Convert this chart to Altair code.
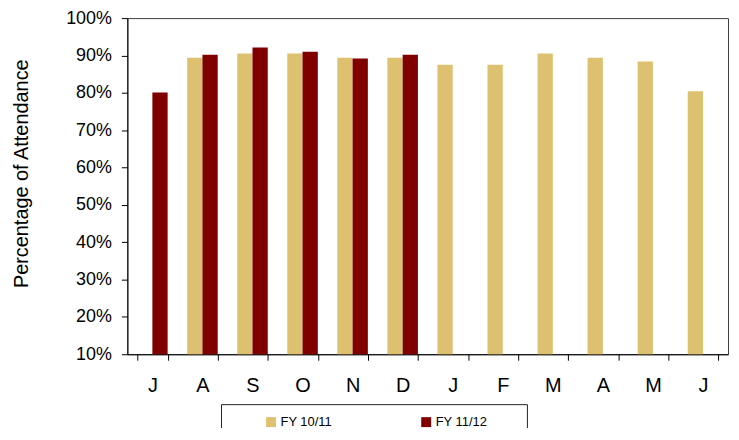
import altair as alt
import pandas as pd

# ---- data ----
months = ["Jul", "Aug", "Sep", "Oct", "Nov", "Dec", "Jan", "Feb", "Mar", "Apr", "May", "Jun"]
series = ["FY 10/11", "FY 11/12"]
fy1011 = [None, 0.894, 0.905, 0.905, 0.894, 0.894, 0.875, 0.875, 0.905, 0.894, 0.884, 0.804]
fy1112 = [0.801, 0.902, 0.921, 0.910, 0.892, 0.902, None, None, None, None, None, None]
y_ticks = [0.1, 0.2, 0.3, 0.4, 0.5, 0.6, 0.7, 0.8, 0.9, 1.0]
colors = ["#DEC170", "#800000"]

rows = []
for m, a, b in zip(months, fy1011, fy1112):
    if a is not None:
        rows.append({"month": m, "series": series[0], "value": a})
    if b is not None:
        rows.append({"month": m, "series": series[1], "value": b})
df = pd.DataFrame(rows)

FONT = "Liberation Sans"

bars = alt.Chart(df).mark_bar().encode(
    x=alt.X(
        "month:N",
        sort=months,
        scale=alt.Scale(domain=months, paddingInner=0.39, paddingOuter=0.195),
        axis=alt.Axis(
            title=None,
            labelExpr="substring(datum.label, 0, 1)",
            labelAngle=0,
            tickBand="extent",
            tickSize=6,
            labelFontSize=20,
            labelBaseline="alphabetic",
            labelPadding=31,
        ),
    ),
    xOffset=alt.XOffset("series:N", scale=alt.Scale(domain=series, paddingInner=0, paddingOuter=0)),
    y=alt.Y(
        "value:Q",
        scale=alt.Scale(domain=[0.1, 1.0], zero=False, nice=False),
        axis=alt.Axis(
            title="Percentage of Attendance",
            format=".0%",
            values=y_ticks,
            tickSize=6,
            labelFontSize=18,
            labelPadding=10,
            titleFontSize=20,
            titleFontWeight="normal",
            titleX=-100,
            titleY=156,
            titleBaseline="alphabetic",
            titleAlign="center",
            titleAngle=270,
        ),
    ),
    y2=alt.datum(0.1),
    color=alt.Color(
        "series:N",
        scale=alt.Scale(domain=series, range=colors),
        legend=alt.Legend(
            title=None,
            orient="none",
            legendX=138,
            legendY=399.5,
            direction="horizontal",
            symbolType="square",
            symbolSize=100,
            symbolStrokeWidth=0,
            labelFont=FONT,
            labelFontSize=13,
            labelColor="black",
            labelOffset=3,
            columnPadding=88,
            padding=0,
        ),
    ),
)

frame = alt.Chart(alt.Data(values=[{}])).mark_rect(
    fill="white", stroke="#222222", strokeWidth=1
).encode(
    x=alt.value(94.7), x2=alt.value(402.3), y=alt.value(388.7), y2=alt.value(460)
)

chart = (
    alt.layer(frame, bars)
    .properties(
        width=604,
        height=338,
        autosize=alt.AutoSizeParams(type="none"),
        padding={"left": 120, "top": 9, "right": 3, "bottom": 73},
        background="white",
    )
    .configure_view(stroke="#404040", strokeWidth=1)
    .configure_axis(
        grid=False,
        domainColor="black",
        tickColor="black",
        labelColor="black",
        titleColor="black",
        labelFont=FONT,
        titleFont=FONT,
    )
)

chart.save("out.html", embed_options={"renderer": "svg", "actions": False})
